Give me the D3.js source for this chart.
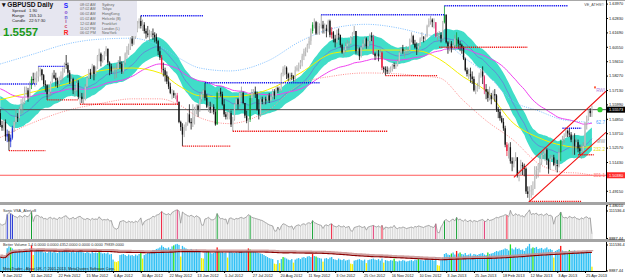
<!DOCTYPE html>
<html>
<head>
<meta charset="utf-8">
<script src="https://cdnjs.cloudflare.com/ajax/libs/d3/7.8.5/d3.min.js"></script>
<style>
  body { margin: 0; background: #fff; }
  svg text { font-family: "Liberation Sans", Arial, sans-serif; }
</style>
</head>
<body>
<div id="chart"></div>
<script>
// GBPUSD Daily - MT4 style chart with Sonic R overlays, VSA and Better Volume

// ---------- data ----------
// one bar per trading day, bar 0 = 6 Jan 2012 ... bar 341 = 1 May 2013
var firstOpen = 1.5530;

var closes = [
  1.5435,
  1.5415, 1.5460, 1.5345, 1.5365, 1.5305,
  1.5335, 1.5410, 1.5460, 1.5500, 1.5490,
  1.5560, 1.5600, 1.5610, 1.5700, 1.5710,
  1.5660, 1.5750, 1.5800, 1.5790, 1.5810,
  1.5820, 1.5860, 1.5875, 1.5830, 1.5760,
  1.5750, 1.5680, 1.5700, 1.5770, 1.5830,
  1.5810, 1.5790, 1.5760, 1.5800, 1.5830,
  1.5880, 1.5920, 1.5910, 1.5850, 1.5780,
  1.5800, 1.5710, 1.5710, 1.5770, 1.5660,
  1.5660, 1.5640, 1.5640, 1.5740, 1.5810,
  1.5850, 1.5830, 1.5900, 1.5840, 1.5880,
  1.5980, 1.6000, 1.5940, 1.5970, 1.6000,
  1.6040, 1.5930, 1.5900, 1.5860, 1.5880,
  1.5880, 1.5880, 1.5930, 1.5920, 1.5860,
  1.5930, 1.6000, 1.6030, 1.6050, 1.6120,
  1.6080, 1.6130, 1.6180, 1.6240, 1.6260,
  1.6220, 1.6230, 1.6180, 1.6160, 1.6150,
  1.6150, 1.6160, 1.6150, 1.6130, 1.6100,
  1.6020, 1.5970, 1.5880, 1.5870, 1.5830,
  1.5780, 1.5740, 1.5690, 1.5690, 1.5670,
  1.5670, 1.5620, 1.5460, 1.5420, 1.5360,
  1.5420, 1.5450, 1.5520, 1.5460, 1.5450,
  1.5500, 1.5560, 1.5590, 1.5560, 1.5640,
  1.5680, 1.5710, 1.5650, 1.5580, 1.5580,
  1.5560, 1.5580, 1.5540, 1.5440, 1.5690,
  1.5700, 1.5680, 1.5600, 1.5520, 1.5500,
  1.5510, 1.5530, 1.5440, 1.5480, 1.5600,
  1.5640, 1.5600, 1.5690, 1.5690, 1.5610,
  1.5510, 1.5470, 1.5480, 1.5650, 1.5690,
  1.5700, 1.5680, 1.5560, 1.5520, 1.5640,
  1.5620, 1.5640, 1.5630, 1.5670, 1.5630,
  1.5660, 1.5700, 1.5670, 1.5730, 1.5710,
  1.5710, 1.5840, 1.5880, 1.5890, 1.5840,
  1.5810, 1.5830, 1.5820, 1.5800, 1.5870,
  1.5890, 1.5910, 1.5930, 1.5980, 1.6020,
  1.6020, 1.6070, 1.6100, 1.6180, 1.6230,
  1.6250, 1.6160, 1.6220, 1.6230, 1.6230,
  1.6200, 1.6200, 1.6180, 1.6260, 1.6150,
  1.6170, 1.6120, 1.6090, 1.6160, 1.6150,
  1.6070, 1.6010, 1.6030, 1.6060, 1.6080,
  1.6080, 1.6130, 1.6160, 1.6180, 1.6020,
  1.6040, 1.5980, 1.6050, 1.6080, 1.6120,
  1.6060, 1.6100, 1.6140, 1.6130, 1.6000,
  1.5980, 1.6000, 1.5980, 1.6010, 1.5890,
  1.5880, 1.5870, 1.5860, 1.5870, 1.5880,
  1.5910, 1.5900, 1.5910, 1.5940, 1.6010,
  1.6040, 1.6020, 1.6020, 1.6030, 1.6030,
  1.6110, 1.6140, 1.6080, 1.6050, 1.6040,
  1.6060, 1.6120, 1.6130, 1.6120, 1.6140,
  1.6220, 1.6260, 1.6270, 1.6250, 1.6250,
  1.6140, 1.6140, 1.6150, 1.6120,
  1.6250, 1.6310, 1.6090, 1.6060,
  1.6080, 1.6050, 1.6070, 1.6120, 1.6110,
  1.6080, 1.6070, 1.6050, 1.5960, 1.5870,
  1.5840, 1.5840, 1.5820, 1.5800, 1.5710,
  1.5710, 1.5740, 1.5830, 1.5860, 1.5820,
  1.5720, 1.5700, 1.5650, 1.5670, 1.5640,
  1.5680, 1.5670, 1.5560, 1.5540, 1.5490,
  1.5460, 1.5410, 1.5280, 1.5230, 1.5260,
  1.5150, 1.5130, 1.5160, 1.5180, 1.5040,
  1.5050, 1.5120, 1.5110, 1.5090, 1.4910,
  1.4890, 1.4910, 1.4920, 1.4930, 1.5080,
  1.5080, 1.5090, 1.5140, 1.5200, 1.5210,
  1.5240, 1.5160, 1.5090, 1.5170, 1.5180,
  1.5120, 1.5120, 1.5110, 1.5220, 1.5310,
  1.5320, 1.5350, 1.5390, 1.5370, 1.5360,
  1.5320, 1.5320, 1.5270, 1.5300, 1.5250,
  1.5230, 1.5230, 1.5270, 1.5450, 1.5480,
  1.5550, 1.5530, 1.5557
];

var highs = [
  1.5560,
  1.5470, 1.5480, 1.5480, 1.5400, 1.5390,
  1.5360, 1.5430, 1.5470, 1.5560, 1.5530,
  1.5580, 1.5640, 1.5650, 1.5740, 1.5740,
  1.5730, 1.5780, 1.5820, 1.5850, 1.5850,
  1.5860, 1.5900, 1.5890, 1.5880, 1.5840,
  1.5790, 1.5760, 1.5760, 1.5780, 1.5850,
  1.5870, 1.5850, 1.5810, 1.5820, 1.5860,
  1.5890, 1.5930, 1.5990, 1.5930, 1.5870,
  1.5830, 1.5810, 1.5740, 1.5800, 1.5790,
  1.5700, 1.5690, 1.5690, 1.5760, 1.5820,
  1.5880, 1.5880, 1.5920, 1.5910, 1.5900,
  1.5990, 1.6040, 1.6010, 1.5990, 1.6020,
  1.6060, 1.6040, 1.5940, 1.5920, 1.5900,
  1.5900, 1.5920, 1.5950, 1.5980, 1.5940,
  1.5940, 1.6010, 1.6060, 1.6080, 1.6130,
  1.6150, 1.6150, 1.6220, 1.6260, 1.6280,
  1.6301, 1.6270, 1.6250, 1.6200, 1.6220,
  1.6190, 1.6180, 1.6200, 1.6170, 1.6160,
  1.6110, 1.6060, 1.5990, 1.5930, 1.5890,
  1.5860, 1.5820, 1.5770, 1.5720, 1.5710,
  1.5690, 1.5690, 1.5620, 1.5470, 1.5450,
  1.5440, 1.5460, 1.5530, 1.5600, 1.5490,
  1.5600, 1.5580, 1.5600, 1.5600, 1.5690,
  1.5700, 1.5720, 1.5770, 1.5680, 1.5620,
  1.5620, 1.5610, 1.5600, 1.5560, 1.5700,
  1.5720, 1.5730, 1.5700, 1.5640, 1.5540,
  1.5540, 1.5560, 1.5550, 1.5500, 1.5610,
  1.5650, 1.5650, 1.5700, 1.5740, 1.5700,
  1.5600, 1.5550, 1.5490, 1.5670, 1.5720,
  1.5720, 1.5740, 1.5700, 1.5640, 1.5660,
  1.5660, 1.5650, 1.5660, 1.5680, 1.5690,
  1.5680, 1.5720, 1.5720, 1.5740, 1.5740,
  1.5740, 1.5850, 1.5900, 1.5910, 1.5900,
  1.5850, 1.5850, 1.5850, 1.5830, 1.5900,
  1.5910, 1.5930, 1.5950, 1.6000, 1.6040,
  1.6050, 1.6080, 1.6130, 1.6200, 1.6250,
  1.6280, 1.6260, 1.6250, 1.6240, 1.6309,
  1.6260, 1.6240, 1.6230, 1.6270, 1.6270,
  1.6210, 1.6180, 1.6150, 1.6190, 1.6200,
  1.6150, 1.6080, 1.6050, 1.6090, 1.6110,
  1.6100, 1.6140, 1.6170, 1.6220, 1.6180,
  1.6050, 1.6050, 1.6060, 1.6110, 1.6130,
  1.6130, 1.6110, 1.6160, 1.6170, 1.6150,
  1.6010, 1.6030, 1.6030, 1.6040, 1.6020,
  1.5900, 1.5900, 1.5900, 1.5890, 1.5900,
  1.5920, 1.5930, 1.5930, 1.5960, 1.6020,
  1.6050, 1.6070, 1.6030, 1.6060, 1.6040,
  1.6120, 1.6170, 1.6150, 1.6110, 1.6090,
  1.6080, 1.6130, 1.6170, 1.6140, 1.6150,
  1.6230, 1.6280, 1.6300, 1.6280, 1.6280,
  1.6250, 1.6170, 1.6180, 1.6170,
  1.6260, 1.6380, 1.6310, 1.6100,
  1.6110, 1.6100, 1.6090, 1.6150, 1.6170,
  1.6130, 1.6100, 1.6080, 1.6060, 1.5970,
  1.5890, 1.5880, 1.5890, 1.5860, 1.5820,
  1.5750, 1.5770, 1.5850, 1.5880, 1.5900,
  1.5830, 1.5760, 1.5720, 1.5740, 1.5690,
  1.5710, 1.5720, 1.5680, 1.5580, 1.5560,
  1.5510, 1.5490, 1.5430, 1.5300, 1.5290,
  1.5300, 1.5180, 1.5180, 1.5220, 1.5180,
  1.5080, 1.5160, 1.5140, 1.5130, 1.5100,
  1.4950, 1.4950, 1.4960, 1.4990, 1.5110,
  1.5110, 1.5130, 1.5200, 1.5220, 1.5250,
  1.5250, 1.5250, 1.5170, 1.5200, 1.5200,
  1.5200, 1.5170, 1.5160, 1.5250, 1.5320,
  1.5350, 1.5370, 1.5410, 1.5400, 1.5410,
  1.5380, 1.5360, 1.5370, 1.5330, 1.5320,
  1.5280, 1.5280, 1.5300, 1.5460, 1.5510,
  1.5560, 1.5570, 1.5590
];

var lows = [
  1.5420,
  1.5390, 1.5390, 1.5310, 1.5300, 1.5233,
  1.5260, 1.5320, 1.5380, 1.5440, 1.5460,
  1.5470, 1.5520, 1.5530, 1.5600, 1.5670,
  1.5620, 1.5640, 1.5720, 1.5760, 1.5740,
  1.5770, 1.5780, 1.5820, 1.5790, 1.5740,
  1.5700, 1.5635, 1.5650, 1.5670, 1.5770,
  1.5800, 1.5740, 1.5730, 1.5740, 1.5770,
  1.5780, 1.5850, 1.5880, 1.5810, 1.5760,
  1.5750, 1.5680, 1.5660, 1.5700, 1.5640,
  1.5600, 1.5610, 1.5600, 1.5630, 1.5730,
  1.5800, 1.5800, 1.5810, 1.5790, 1.5820,
  1.5880, 1.5940, 1.5900, 1.5930, 1.5950,
  1.5980, 1.5910, 1.5830, 1.5840, 1.5850,
  1.5800, 1.5810, 1.5870, 1.5880, 1.5840,
  1.5840, 1.5910, 1.5960, 1.5990, 1.6030,
  1.6060, 1.6070, 1.6120, 1.6170, 1.6200,
  1.6200, 1.6180, 1.6160, 1.6120, 1.6130,
  1.6100, 1.6130, 1.6110, 1.6090, 1.6080,
  1.5990, 1.5950, 1.5850, 1.5820, 1.5780,
  1.5760, 1.5720, 1.5680, 1.5640, 1.5650,
  1.5640, 1.5600, 1.5450, 1.5390, 1.5269,
  1.5340, 1.5390, 1.5430, 1.5450, 1.5400,
  1.5420, 1.5440, 1.5520, 1.5500, 1.5540,
  1.5620, 1.5650, 1.5630, 1.5570, 1.5540,
  1.5530, 1.5530, 1.5520, 1.5430, 1.5440,
  1.5650, 1.5660, 1.5590, 1.5500, 1.5480,
  1.5480, 1.5480, 1.5420, 1.5386, 1.5470,
  1.5590, 1.5560, 1.5580, 1.5650, 1.5600,
  1.5490, 1.5450, 1.5393, 1.5460, 1.5620,
  1.5660, 1.5650, 1.5550, 1.5480, 1.5500,
  1.5600, 1.5590, 1.5600, 1.5620, 1.5610,
  1.5620, 1.5640, 1.5640, 1.5660, 1.5690,
  1.5700, 1.5700, 1.5820, 1.5830, 1.5800,
  1.5780, 1.5780, 1.5790, 1.5780, 1.5780,
  1.5860, 1.5860, 1.5880, 1.5900, 1.5950,
  1.5980, 1.6010, 1.6040, 1.6070, 1.6160,
  1.6200, 1.6150, 1.6150, 1.6150, 1.6200,
  1.6160, 1.6160, 1.6130, 1.6170, 1.6130,
  1.6120, 1.6090, 1.6050, 1.6080, 1.6110,
  1.6050, 1.6000, 1.5980, 1.6010, 1.6030,
  1.6030, 1.6070, 1.6110, 1.6150, 1.6000,
  1.5990, 1.5950, 1.5970, 1.6030, 1.6050,
  1.6040, 1.6040, 1.6080, 1.6100, 1.5990,
  1.5950, 1.5960, 1.5940, 1.5960, 1.5870,
  1.5850, 1.5827, 1.5840, 1.5840, 1.5850,
  1.5860, 1.5880, 1.5880, 1.5900, 1.5930,
  1.6000, 1.6000, 1.5970, 1.6000, 1.6000,
  1.6020, 1.6090, 1.6070, 1.6040, 1.5990,
  1.6010, 1.6050, 1.6100, 1.6090, 1.6100,
  1.6130, 1.6210, 1.6230, 1.6210, 1.6200,
  1.6130, 1.6100, 1.6120, 1.6090,
  1.6100, 1.6240, 1.6080, 1.6000,
  1.6020, 1.6010, 1.6030, 1.6030, 1.6060,
  1.6040, 1.6020, 1.6000, 1.5950, 1.5860,
  1.5820, 1.5800, 1.5770, 1.5760, 1.5700,
  1.5680, 1.5700, 1.5720, 1.5810, 1.5760,
  1.5680, 1.5640, 1.5620, 1.5630, 1.5600,
  1.5640, 1.5620, 1.5540, 1.5490, 1.5470,
  1.5450, 1.5390, 1.5260, 1.5190, 1.5170,
  1.5130, 1.5070, 1.5100, 1.5150, 1.5020,
  1.4990, 1.5040, 1.5040, 1.5030, 1.4890,
  1.4860, 1.4831, 1.4860, 1.4880, 1.4930,
  1.5010, 1.5020, 1.5060, 1.5120, 1.5170,
  1.5150, 1.5120, 1.5050, 1.5080, 1.5160,
  1.5110, 1.5080, 1.5060, 1.5100, 1.5150,
  1.5270, 1.5290, 1.5340, 1.5340, 1.5340,
  1.5300, 1.5200, 1.5200, 1.5240, 1.5220,
  1.5200, 1.5170, 1.5200, 1.5260, 1.5400,
  1.5470, 1.5500, 1.5500
];

// tick volume, thousands
var volumes = [
  62,
  56, 60, 62, 97, 104,
  100, 96, 90, 88, 84,
  92, 90, 86, 94, 90,
  88, 96, 108, 70, 90,
  94, 92, 86, 88, 80,
  82, 78, 84, 86, 80,
  84, 80, 78, 86, 82,
  86, 90, 92, 84, 80,
  82, 86, 80, 84, 88,
  90, 84, 80, 78, 82,
  80, 76, 82, 78, 80,
  78, 88, 80, 76, 78,
  76, 80, 72, 74, 52,
  44, 42, 46, 70, 72,
  74, 70, 66, 72, 68,
  70, 66, 72, 68, 74,
  84, 56, 70, 74, 78,
  80, 84, 90, 88, 94,
  96, 100, 108, 102, 98,
  96, 100, 94, 104, 108,
  112, 114, 110, 64, 106,
  100, 96, 92, 90, 94,
  90, 86, 92, 88, 84,
  58, 56, 80, 82, 86,
  80, 76, 78, 82, 100,
  88, 80, 82, 78, 80,
  60, 82, 84, 80, 78,
  82, 80, 84, 86, 82,
  84, 88, 96, 92, 86,
  84, 82, 80, 78, 76,
  74, 70, 66, 62, 58,
  56, 54, 36, 34, 50,
  38, 54, 62, 60, 56,
  52, 50, 54, 40, 52,
  56, 58, 54, 60, 62,
  58, 64, 66, 62, 74,
  66, 64, 60, 58, 56,
  44, 56, 58, 54, 60,
  62, 54, 52, 50, 56,
  52, 50, 54, 48, 50,
  52, 36, 34, 48, 50,
  52, 54, 50, 48, 52,
  38, 50, 52, 54, 56,
  52, 50, 54, 48, 56,
  40, 50, 48, 46, 50,
  48, 56, 46, 44, 48,
  46, 50, 48, 44, 46,
  48, 50, 46, 52, 50,
  54, 52, 50, 48, 52,
  54, 56, 52, 50, 48,
  62, 30, 28, 50,
  60, 74, 78, 72,
  70, 76, 80, 72, 86,
  76, 80, 74, 72, 78,
  70, 72, 76, 68, 74,
  72, 70, 74, 76, 78,
  72, 70, 80, 74, 76,
  78, 82, 86, 84, 88,
  90, 92, 96, 94, 88,
  112, 96, 92, 100, 94,
  96, 90, 92, 86, 98,
  104, 114, 96, 100, 98,
  102, 94, 96, 98, 92,
  96, 100, 92, 94, 90,
  60, 86, 90, 94, 106,
  88, 84, 86, 82, 90,
  86, 84, 88, 82, 80,
  78, 84, 80, 86, 88,
  82, 84, 24
];

// Sonic VSA signal bars: [bar, kind]
var vsaSignals = [[4, "blue"], [6, "blue"], [7, "blue"], [18, "green"], [93, "red"], [102, "pink"],
  [125, "green"], [144, "green"], [180, "green"], [191, "red"], [215, "pink"], [220, "red"],
  [251, "pink"], [256, "green"], [263, "green"], [279, "pink"], [292, "red"], [323, "green"]];

// Better Volume bar classes
var bvRed = [18, 125, 143, 180, 263, 323];
var bvGreen = [6, 57, 81, 100, 120, 126, 144, 163, 182, 227, 241, 260, 265, 281, 294, 307, 328];
var bvYellow = [19, 66, 67, 68, 82, 104, 116, 117, 131, 158, 159, 161, 169, 186, 202, 203, 211, 221, 252, 253, 319, 341];

// centred TMA and its bands, read at these bars
var tmaBars  = [0, 19, 38, 57, 76, 92, 103, 115, 132, 154, 173, 192, 211, 230, 242, 253, 267, 280, 296, 310, 324, 334, 341];
var tmaMid   = [1.5636, 1.5698, 1.5761, 1.5864, 1.5887, 1.5848, 1.5746, 1.5667, 1.5659, 1.5714, 1.5848, 1.6005,
                1.6029, 1.6029, 1.6021, 1.5958, 1.5816, 1.5706, 1.5447, 1.5337, 1.5274, 1.5258, 1.5266];
var tmaUpper = [1.5919, 1.5997, 1.6076, 1.6115, 1.6123, 1.6060, 1.5966, 1.5887, 1.5864, 1.5942, 1.6099, 1.6202,
                1.6233, 1.6202, 1.6162, 1.6123, 1.5974, 1.5840, 1.5620, 1.5549, 1.5478, 1.5463, 1.5455];
var tmaLower = [1.5337, 1.5455, 1.5549, 1.5604, 1.5643, 1.5643, 1.5596, 1.5494, 1.5447, 1.5549, 1.5761, 1.5824,
                1.5848, 1.5840, 1.5824, 1.5809, 1.5628, 1.5471, 1.5313, 1.5133, 1.5062, 1.5054, 1.5038];

// pivot lines [fromBar, toBar, price]
var resistLines = [[0, 21, 1.5761], [22, 37, 1.5900], [81, 117, 1.6301], [118, 184, 1.5770],
  [185, 256, 1.6309], [256, 327, 1.6380], [324, 335, 1.5410]];
var supportLines = [[5, 26, 1.5233], [27, 45, 1.5635], [46, 103, 1.5600], [105, 133, 1.5269],
  [134, 223, 1.5386], [222, 252, 1.5827], [253, 304, 1.6052], [305, 335, 1.4831], [333, 342, 1.5200]];

// channel trend lines [[bar, price], [bar, price]]
var channelUpper = [[296, 1.5022], [341, 1.5600]];
var channelLower = [[304, 1.4818], [341, 1.5277]];

var bidPrice = 1.55573;
var redLevel = 1.50380;

var priceTicks = [1.63970, 1.62830, 1.61690, 1.60550, 1.59410, 1.58270, 1.57130, 1.55990,
  1.54850, 1.53710, 1.52570, 1.51430, 1.50290, 1.49150, 1.48010];
var volTicks = [8887.44, 111536.4];
var volTickLabels = ["8887.44", "111536.4"];

var dateTickBars = [1, 17, 33, 49, 65, 81, 97, 113, 129, 145, 161, 177, 193, 209, 225, 241, 257, 273, 289, 305, 321, 337];
var dateLabels = ["9 Jan 2012", "31 Jan 2012", "22 Feb 2012", "15 Mar 2012", "6 Apr 2012", "30 Apr 2012",
  "22 May 2012", "13 Jun 2012", "5 Jul 2012", "27 Jul 2012", "20 Aug 2012", "11 Sep 2012", "3 Oct 2012",
  "25 Oct 2012", "16 Nov 2012", "10 Dec 2012", "3 Jan 2013", "25 Jan 2013", "18 Feb 2013", "12 Mar 2013",
  "3 Apr 2013", "25 Apr 2013"];

var sessionTimes = ["08:02 AM", "07:02 AM", "06:02 AM", "01:02 AM", "12:02 AM", "11:02 PM", "06:02 PM"];
var sessionCities = ["Sydney", "Tokyo", "HongKong", "Helsinki (B)", "Frankfurt", "London (L)", "NewYork"];

// ---------- layout ----------
var svgWidth = 625, svgHeight = 280;
var plotRight = 606;
var mainBottom = 202;
var sub1 = {top: 205, bottom: 239};
var sub2 = {top: 242, bottom: 271};

var svg = d3.select("#chart").append("svg")
  .attr("width", svgWidth)
  .attr("height", svgHeight)
  .style("display", "block");

var defs = svg.append("defs");
function clip(id, y0, y1) {
  defs.append("clipPath").attr("id", id)
    .append("rect").attr("x", 0).attr("y", y0).attr("width", plotRight).attr("height", y1 - y0);
}
clip("clipMain", 0, mainBottom);
clip("clipSub1", sub1.top, sub1.bottom);
clip("clipSub2", sub2.top, sub2.bottom);

// scales
var x = d3.scaleLinear().domain([1, 337]).range([2, 585]);
var y = d3.scaleLinear().domain([1.48010, 1.63970]).range([205.2, 3.6]);
var v1 = d3.scaleLinear().domain([8887.44, 111536.4]).range([238, 210.5]);
var v2 = d3.scaleLinear().domain([8887.44, 111536.4]).range([270.5, 244.5]);

// bars
var bars = closes.map(function(c, i) {
  var o = i === 0 ? firstOpen : closes[i - 1];
  return {i: i, o: o, c: c,
    h: Math.max(highs[i], o, c), l: Math.min(lows[i], o, c),
    v: volumes[i] * 1000};
});

function ema(values, period, seed) {
  var k = 2 / (period + 1), e = seed;
  return values.map(function(v) { e = e + k * (v - e); return e; });
}
function sma(values, period) {
  return values.map(function(v, i) {
    return d3.mean(values.slice(Math.max(0, i - period + 1), i + 1));
  });
}

// Sonic R dragon (EMA 34) band and slower EMA 89
var mid34 = ema(closes, 34, 1.5585);
var rng34 = ema(bars.map(function(b) { return b.h - b.l; }), 34, 0.0105);
var ema89 = ema(closes, 89, 1.5730);

var vsaColor = {blue: "#1c2ed0", green: "#10a030", red: "#ee1030", pink: "#e0306e"};
var vsaMap = {};
vsaSignals.forEach(function(s) { vsaMap[s[0]] = vsaColor[s[1]]; });

// ---------- main window ----------
var main = svg.append("g").attr("clip-path", "url(#clipMain)");

main.append("path")
  .datum(bars)
  .attr("fill", "#40ddc8")
  .attr("d", d3.area()
    .x(function(d) { return x(d.i); })
    .y0(function(d) { return y(mid34[d.i] - 0.85 * rng34[d.i]); })
    .y1(function(d) { return y(mid34[d.i] + 0.85 * rng34[d.i]); })
    .curve(d3.curveMonotoneX));

var lineOf = function(arr) {
  return d3.line()
    .x(function(d, i) { return x(i); })
    .y(function(d) { return y(d); })
    .curve(d3.curveMonotoneX)(arr);
};

main.append("path").attr("d", lineOf(mid34))
  .attr("fill", "none").attr("stroke", "#6a78d8").attr("stroke-width", 0.8);

main.append("path").attr("d", lineOf(ema89))
  .attr("fill", "none").attr("stroke", "#f040f0").attr("stroke-width", 1);

var tmaLine = function(vals) {
  return d3.line()
    .x(function(d, k) { return x(tmaBars[k]); })
    .y(function(d) { return y(d); })
    .curve(d3.curveMonotoneX)(vals);
};

main.append("path").attr("d", tmaLine(tmaMid))
  .attr("fill", "none").attr("stroke", "#f4f000").attr("stroke-width", 1);
main.append("path").attr("d", tmaLine(tmaUpper))
  .attr("fill", "none").attr("stroke", "#80c0ff").attr("stroke-width", 1)
  .attr("stroke-dasharray", "1,1.3");
main.append("path").attr("d", tmaLine(tmaLower))
  .attr("fill", "none").attr("stroke", "#ff8f8f").attr("stroke-width", 1)
  .attr("stroke-dasharray", "1,1.3");

// horizontal levels
main.append("line")
  .attr("x1", 0).attr("x2", plotRight)
  .attr("y1", y(bidPrice)).attr("y2", y(bidPrice))
  .attr("stroke", "#505050").attr("stroke-width", 1);
main.append("line")
  .attr("x1", 0).attr("x2", plotRight)
  .attr("y1", y(redLevel)).attr("y2", y(redLevel))
  .attr("stroke", "#ff5a5a").attr("stroke-width", 1);

// candles
var candles = main.append("g");
candles.selectAll("line")
  .data(bars)
  .enter()
  .append("line")
  .attr("x1", function(d) { return x(d.i); })
  .attr("x2", function(d) { return x(d.i); })
  .attr("y1", function(d) { return y(d.h); })
  .attr("y2", function(d) { return y(d.l); })
  .attr("stroke", function(d) { return vsaMap[d.i] || (d.c >= d.o ? "#9a9a9a" : "#111"); })
  .attr("stroke-width", 0.8);

candles.selectAll("rect")
  .data(bars)
  .enter()
  .append("rect")
  .attr("x", function(d) { return x(d.i) - 0.65; })
  .attr("width", 1.3)
  .attr("y", function(d) { return y(Math.max(d.o, d.c)); })
  .attr("height", function(d) { return Math.max(0.6, Math.abs(y(d.o) - y(d.c))); })
  .attr("fill", function(d) { return vsaMap[d.i] || (d.c >= d.o ? "#c4c4c4" : "#111"); });

// pivot lines
function pivots(list, color) {
  main.append("g").selectAll("line")
    .data(list)
    .enter()
    .append("line")
    .attr("x1", function(d) { return x(d[0]); })
    .attr("x2", function(d) { return x(d[1]); })
    .attr("y1", function(d) { return y(d[2]); })
    .attr("y2", function(d) { return y(d[2]); })
    .attr("stroke", color)
    .attr("stroke-width", 1.4)
    .attr("stroke-dasharray", "1.2,0.9");
}
pivots(resistLines, "#1010f0");
pivots(supportLines, "#f01010");

// channel rays
function ray(pts) {
  var slope = (pts[1][1] - pts[0][1]) / (pts[1][0] - pts[0][0]);
  var endBar = x.invert(plotRight);
  main.append("line")
    .attr("x1", x(pts[0][0])).attr("y1", y(pts[0][1]))
    .attr("x2", plotRight).attr("y2", y(pts[0][1] + slope * (endBar - pts[0][0])))
    .attr("stroke", "#f01010").attr("stroke-width", 1.1);
}
ray(channelUpper);
ray(channelLower);

// edge labels
var edgeLabels = [
  {t: "RWI", p: 1.5706, c: "#b080e0"},
  {t: "62.7", p: tmaUpper[tmaUpper.length - 1], c: "#4aa0ff"},
  {t: "MW", p: 1.5306, c: "#909090"},
  {t: "232.2", p: tmaMid[tmaMid.length - 1] - 0.0025, c: "#e8e000"},
  {t: "301.1", p: tmaLower[tmaLower.length - 1], c: "#ff7070"}
];
svg.append("g").selectAll("text")
  .data(edgeLabels)
  .enter()
  .append("text")
  .attr("x", plotRight - 1)
  .attr("y", function(d) { return y(d.p) + 1.5; })
  .attr("text-anchor", "end")
  .attr("font-size", 4.6)
  .attr("fill", function(d) { return d.c; })
  .text(function(d) { return d.t; });
svg.append("rect").attr("x", plotRight - 12).attr("y", y(1.5706) - 4.5)
  .attr("width", 2).attr("height", 2).attr("fill", "#ff6040");
svg.append("circle").attr("cx", plotRight - 6).attr("cy", y(bidPrice))
  .attr("r", 2.6).attr("fill", "#30d030");

svg.append("text").attr("x", plotRight - 2).attr("y", 6)
  .attr("text-anchor", "end").attr("font-size", 3.8).attr("fill", "#555")
  .text("VE_ATHS\u00a9");

// ---------- info box ----------
var info = svg.append("g");
info.append("rect").attr("x", 0).attr("y", 0).attr("width", 137).attr("height", 36)
  .attr("fill", "#e6e6f0");
info.append("text").attr("x", 1.5).attr("y", 7.2).attr("font-size", 6.6).attr("font-weight", "bold")
  .attr("fill", "#111").text("\u25be GBPUSD   Daily");
[["Spread", "1.90"], ["Range", "155.10"], ["Candle", "22:57:30"]].forEach(function(r, k) {
  info.append("text").attr("x", 12).attr("y", 12 + k * 5.2).attr("font-size", 4.2).attr("fill", "#222").text(r[0]);
  info.append("text").attr("x", 29).attr("y", 12 + k * 5.2).attr("font-size", 4.2).attr("fill", "#222").text(r[1]);
});
info.append("text").attr("x", 3).attr("y", 35.6).attr("font-size", 11.5).attr("font-weight", "bold")
  .attr("fill", "#1a9a1a").text(d3.format(".4f")(bidPrice));
var sonic = [["S", "#2020ff", 6.5, 7.5], ["o", "#8040d0", 5, 13.5], ["n", "#6050d0", 5, 18.5],
  ["i", "#a04090", 5, 23], ["c", "#d04060", 5, 27.5], ["R", "#ff2020", 6.5, 34.5]];
sonic.forEach(function(s) {
  info.append("text").attr("x", 66).attr("y", s[3]).attr("text-anchor", "middle")
    .attr("font-size", s[2]).attr("font-weight", "bold").attr("fill", s[1]).text(s[0]);
});
sessionTimes.forEach(function(t, k) {
  info.append("text").attr("x", 80).attr("y", 5.5 + k * 4.8).attr("font-size", 3.7).attr("fill", "#666").text(t);
  info.append("text").attr("x", 102).attr("y", 5.5 + k * 4.8).attr("font-size", 3.7).attr("fill", "#666").text(sessionCities[k]);
});

// ---------- sub window 1: Sonic VSA ----------
var g1 = svg.append("g").attr("clip-path", "url(#clipSub1)");
g1.selectAll("rect")
  .data(bars)
  .enter()
  .append("rect")
  .attr("x", function(d) { return x(d.i) - 0.5; })
  .attr("width", 1)
  .attr("y", function(d) { return v1(d.v); })
  .attr("height", function(d) { return sub1.bottom - v1(d.v); })
  .attr("fill", function(d) { return vsaMap[d.i] || "#d6d6d6"; });
g1.append("path")
  .datum(bars)
  .attr("fill", "none").attr("stroke", "#8a8a8a").attr("stroke-width", 0.7)
  .attr("d", d3.line().x(function(d) { return x(d.i); }).y(function(d) { return v1(d.v); }));
svg.append("text").attr("x", 3).attr("y", 212).attr("font-size", 3.8).attr("fill", "#333")
  .text("Sonic VSA_Alert v8");

// ---------- sub window 2: Better Volume ----------
var bvColor = {};
bvYellow.forEach(function(i) { bvColor[i] = "#f2f200"; });
bvGreen.forEach(function(i) { bvColor[i] = "#22dd22"; });
bvRed.forEach(function(i) { bvColor[i] = "#ff1010"; });

var g2 = svg.append("g").attr("clip-path", "url(#clipSub2)");
g2.selectAll("rect")
  .data(bars)
  .enter()
  .append("rect")
  .attr("x", function(d) { return x(d.i) - 0.65; })
  .attr("width", 1.3)
  .attr("y", function(d) { return v2(d.v); })
  .attr("height", function(d) { return sub2.bottom - v2(d.v); })
  .attr("fill", function(d) { return bvColor[d.i] || "#30c0f4"; });

var volAvg = sma(bars.map(function(b) { return b.v; }), 100);
g2.append("path")
  .datum(volAvg)
  .attr("fill", "none").attr("stroke", "#c89090").attr("stroke-width", 2.6).attr("opacity", 0.85)
  .attr("d", d3.line().x(function(d, i) { return x(i); }).y(function(d) { return v2(d) - 1.2; })
    .curve(d3.curveStepAfter));
g2.append("path")
  .datum(volAvg)
  .attr("fill", "none").attr("stroke", "#8b0000").attr("stroke-width", 1.1)
  .attr("d", d3.line().x(function(d, i) { return x(i); }).y(function(d) { return v2(d); }));

svg.append("text").attr("x", 3).attr("y", 246).attr("font-size", 3.8).attr("fill", "#333")
  .text("Better Volume 1.4  0.0000  0.0000  4352.0000  0.0000  0.0000  79839.0000");
svg.append("text").attr("x", 3).attr("y", 270).attr("font-size", 3.8).attr("fill", "#222")
  .text("MetaTrader - Alpari UK, \u00a9 2001-2013, MetaQuotes Software Corp.");

// ---------- frames and separators ----------
svg.append("line").attr("x1", 0).attr("x2", svgWidth).attr("y1", 0.5).attr("y2", 0.5)
  .attr("stroke", "#a8a8a8").attr("stroke-width", 1);
svg.append("rect").attr("x", 0).attr("y", mainBottom).attr("width", svgWidth).attr("height", 3)
  .attr("fill", "#a4a4a4");
svg.append("rect").attr("x", 0).attr("y", sub1.bottom).attr("width", svgWidth).attr("height", 3)
  .attr("fill", "#a4a4a4");

// ---------- axes ----------
function styleAxis(g) {
  g.selectAll("path").attr("stroke", "#000").attr("stroke-width", 1);
  g.selectAll("line").attr("stroke", "#000");
  g.selectAll("text").attr("font-size", 3.9).attr("fill", "#111")
    .attr("font-family", "Liberation Sans, Arial, sans-serif");
}

var priceAxis = svg.append("g")
  .attr("transform", "translate(" + plotRight + ",0)")
  .call(d3.axisRight(y).tickValues(priceTicks).tickSize(2).tickSizeOuter(0)
    .tickFormat(d3.format(".5f")));
priceAxis.select(".domain").attr("d", "M0.5,0V" + mainBottom);
styleAxis(priceAxis);
priceAxis.selectAll("text").attr("x", 3);

[[sub1, v1], [sub2, v2]].forEach(function(s) {
  var ax = svg.append("g")
    .attr("transform", "translate(" + plotRight + ",0)")
    .call(d3.axisRight(s[1]).tickValues(volTicks).tickSize(2).tickSizeOuter(0)
      .tickFormat(function(d, k) { return volTickLabels[k]; }));
  ax.select(".domain").attr("d", "M0.5," + s[0].top + "V" + s[0].bottom);
  styleAxis(ax);
  ax.selectAll("text").attr("x", 3);
});

// price boxes on the axis
[[bidPrice, "#000", "#fff"], [redLevel, "#ff2a2a", "#fff"]].forEach(function(b) {
  var yy = y(b[0]);
  svg.append("rect").attr("x", plotRight + 1).attr("y", yy - 3).attr("width", 19).attr("height", 6)
    .attr("fill", b[1]);
  svg.append("text").attr("x", plotRight + 3).attr("y", yy + 1.4).attr("font-size", 3.9)
    .attr("fill", b[2]).text(d3.format(".5f")(b[0]));
});

var dateAxis = svg.append("g")
  .attr("transform", "translate(0," + sub2.bottom + ")")
  .call(d3.axisBottom(x).tickValues(dateTickBars).tickSize(2).tickSizeOuter(0)
    .tickFormat(function(d, k) { return dateLabels[k]; }));
dateAxis.select(".domain").attr("d", "M0,0.5H" + (plotRight + 0.5));
styleAxis(dateAxis);
dateAxis.selectAll("text").attr("text-anchor", "start").attr("x", 0.5).attr("y", 3.2).attr("dy", "0.71em");
</script>
</body>
</html>
